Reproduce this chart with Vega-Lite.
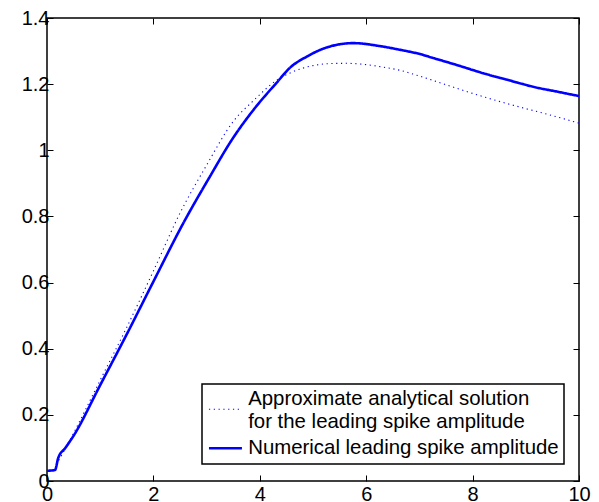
{
  "$schema": "https://vega.github.io/schema/vega-lite/v6.json",
  "width": 532,
  "height": 463,
  "autosize": {"type": "none"},
  "padding": {"left": 47, "top": 18, "right": 20, "bottom": 21},
  "background": "white",
  "config": {
    "view": {"stroke": "black", "strokeWidth": 1.5},
    "font": "Liberation Sans",
    "axis": {
      "grid": false,
      "domain": false,
      "ticks": true,
      "tickSize": -6,
      "tickColor": "black",
      "tickWidth": 1,
      "labelFont": "Liberation Sans",
      "labelFontSize": 20,
      "labelColor": "black",
      "labelFlush": false,
      "title": null
    },
    "legend": {
      "orient": "none",
      "legendX": 155,
      "legendY": 366,
      "strokeColor": "black",
      "strokeWidth": 1.5,
      "fillColor": "white",
      "padding": 5,
      "symbolSize": 272,
      "symbolOffset": 8.25,
      "labelFont": "Liberation Sans",
      "labelFontSize": 20.4,
      "labelColor": "black",
      "labelOffset": 12.5,
      "labelLimit": 400,
      "rowPadding": 6,
      "title": null
    }
  },
  "data": {
    "values": [
      {"x": 0.18, "y": 0.05, "series": "A"},
      {"x": 0.5, "y": 0.145, "series": "A"},
      {"x": 1.0, "y": 0.305, "series": "A"},
      {"x": 1.5, "y": 0.465, "series": "A"},
      {"x": 2.0, "y": 0.635, "series": "A"},
      {"x": 2.5, "y": 0.81, "series": "A"},
      {"x": 3.0, "y": 0.955, "series": "A"},
      {"x": 3.5, "y": 1.087, "series": "A"},
      {"x": 3.88, "y": 1.15, "series": "A"},
      {"x": 4.32, "y": 1.212, "series": "A"},
      {"x": 4.63, "y": 1.238, "series": "A"},
      {"x": 5.0, "y": 1.256, "series": "A"},
      {"x": 5.3, "y": 1.262, "series": "A"},
      {"x": 5.63, "y": 1.263, "series": "A"},
      {"x": 6.0, "y": 1.259, "series": "A"},
      {"x": 6.26, "y": 1.253, "series": "A"},
      {"x": 6.63, "y": 1.242, "series": "A"},
      {"x": 6.95, "y": 1.227, "series": "A"},
      {"x": 7.58, "y": 1.194, "series": "A"},
      {"x": 8.0, "y": 1.172, "series": "A"},
      {"x": 8.52, "y": 1.147, "series": "A"},
      {"x": 9.0, "y": 1.126, "series": "A"},
      {"x": 9.45, "y": 1.107, "series": "A"},
      {"x": 10.0, "y": 1.082, "series": "A"},
      {"x": 0.0, "y": 0.031, "series": "N"},
      {"x": 0.15, "y": 0.033, "series": "N"},
      {"x": 0.21, "y": 0.069, "series": "N"},
      {"x": 0.35, "y": 0.101, "series": "N"},
      {"x": 0.5, "y": 0.137, "series": "N"},
      {"x": 1.0, "y": 0.29, "series": "N"},
      {"x": 1.5, "y": 0.444, "series": "N"},
      {"x": 2.0, "y": 0.603, "series": "N"},
      {"x": 2.56, "y": 0.779, "series": "N"},
      {"x": 3.06, "y": 0.92, "series": "N"},
      {"x": 3.48, "y": 1.033, "series": "N"},
      {"x": 3.88, "y": 1.122, "series": "N"},
      {"x": 4.32, "y": 1.205, "series": "N"},
      {"x": 4.57, "y": 1.25, "series": "N"},
      {"x": 4.88, "y": 1.283, "series": "N"},
      {"x": 5.26, "y": 1.311, "series": "N"},
      {"x": 5.76, "y": 1.324, "series": "N"},
      {"x": 6.26, "y": 1.315, "series": "N"},
      {"x": 6.63, "y": 1.304, "series": "N"},
      {"x": 7.01, "y": 1.291, "series": "N"},
      {"x": 7.26, "y": 1.279, "series": "N"},
      {"x": 7.7, "y": 1.258, "series": "N"},
      {"x": 8.2, "y": 1.233, "series": "N"},
      {"x": 8.7, "y": 1.211, "series": "N"},
      {"x": 9.14, "y": 1.192, "series": "N"},
      {"x": 9.6, "y": 1.177, "series": "N"},
      {"x": 10.0, "y": 1.164, "series": "N"}
    ]
  },
  "resolve": {"axis": {"x": "independent", "y": "independent"}},
  "layer": [
    {
      "mark": {"type": "line", "clip": true, "interpolate": "monotone"},
      "encoding": {
        "x": {
          "field": "x", "type": "quantitative",
          "scale": {"domain": [0, 10], "nice": false, "zero": false},
          "axis": {"orient": "bottom", "values": [0, 2, 4, 6, 8, 10], "labelPadding": 9, "format": "d"}
        },
        "y": {
          "field": "y", "type": "quantitative",
          "scale": {"domain": [0, 1.4], "nice": false},
          "axis": {"orient": "left", "values": [0, 0.2, 0.4, 0.6, 0.8, 1, 1.2, 1.4], "labelPadding": 4, "format": "~g"}
        },
        "color": {
          "field": "series", "type": "nominal",
          "scale": {"domain": ["A", "N"], "range": ["#0000ff", "#0000ff"]},
          "legend": {
            "labelExpr": "datum.value == 'A' ? ['Approximate analytical solution', 'for the leading spike amplitude'] : 'Numerical leading spike amplitude'",
            "encode": {
              "symbols": {
                "update": {
                  "shape": {"signal": "datum.value == 'A' ? 'M-2,1.21H2' : 'M-2,0H2'"}
                }
              }
            }
          }
        },
        "strokeDash": {
          "field": "series", "type": "nominal",
          "scale": {"domain": ["A", "N"], "range": [[1.2, 3.6], [1, 0]]}
        },
        "strokeWidth": {
          "field": "series", "type": "nominal",
          "scale": {"domain": ["A", "N"], "range": [1.1, 2.6]}
        }
      }
    },
    {
      "mark": {"type": "point", "opacity": 0},
      "encoding": {
        "x": {
          "field": "x", "type": "quantitative",
          "axis": {"orient": "top", "values": [0, 2, 4, 6, 8, 10], "labels": false}
        },
        "y": {
          "field": "y", "type": "quantitative",
          "axis": {"orient": "right", "values": [0, 0.2, 0.4, 0.6, 0.8, 1, 1.2, 1.4], "labels": false}
        }
      }
    }
  ]
}
